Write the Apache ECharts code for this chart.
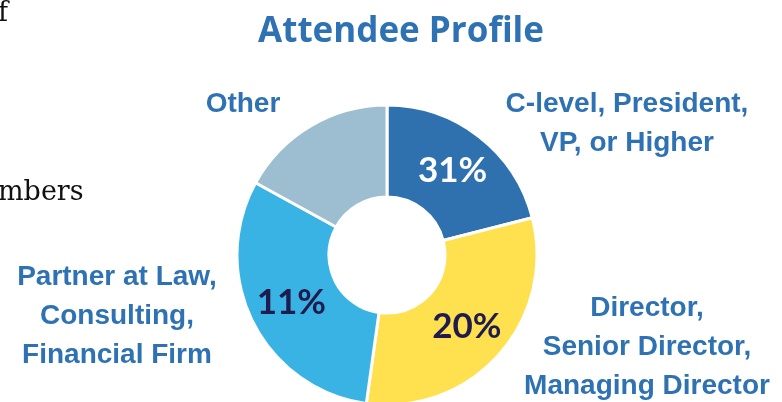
<!DOCTYPE html>
<html>
<head>
<meta charset="utf-8">
<script src="https://cdn.jsdelivr.net/npm/echarts@6/dist/echarts.min.js"></script>
<style>
  html, body { margin: 0; padding: 0; background: #fff; }
  #chart { width: 782px; height: 402px; }
</style>
</head>
<body>
<div id="chart"></div>
<script>
// slice sizes as they appear in the picture (share of the ring)
const categories = [
  'C-level, President,\nVP, or Higher',
  'Director,\nSenior Director,\nManaging Director',
  'Partner at Law,\nConsulting,\nFinancial Firm',
  'Other'
];
const sliceValues = [21, 31.2, 30.8, 17];
// percentages printed on the slices
const printedLabels = ['31%', '20%', '11%', ''];
const sliceColors = ['#2F71AE', '#FFE04F', '#38B3E4', '#9DBDD1'];
const labelColors = ['#ffffff', '#1F1B4E', '#1F1B4E', '#1F1B4E'];

const chart = echarts.init(document.getElementById('chart'));

const blue = '#2E72B3';
const nameFont = 'bold 28px "Liberation Sans", Arial, sans-serif';

// category name placed at (x, y) = centre of first line
function nameText(i, x, y) {
  return {
    type: 'text',
    x: x, y: y - 19.5,
    style: {
      text: categories[i],
      font: nameFont,
      fill: blue,
      align: 'center',
      lineHeight: 39
    }
  };
}

chart.setOption({
  animation: false,
  title: {
    text: 'Attendee Profile',
    left: 396,
    top: 10,
    textAlign: 'center',
    textStyle: {
      color: blue,
      fontSize: 35,
      fontWeight: 'bold',
      fontFamily: '"Open Sans", Lato, sans-serif'
    }
  },
  graphic: [
    // fragments of the surrounding page text
    { type: 'text', left: -2, top: 0, style: { text: 'f', font: '27px "DejaVu Serif", serif', fill: '#111' } },
    { type: 'text', left: -2, top: 179, style: { text: 'mbers', font: '27px "DejaVu Serif", serif', fill: '#111' } },
    nameText(0, 627, 104),
    nameText(1, 647, 308),
    nameText(2, 117, 277),
    nameText(3, 243, 104)
  ],
  series: [{
    type: 'pie',
    center: [387, 255],
    radius: [58, 150],
    startAngle: 90,
    clockwise: true,
    avoidLabelOverlap: false,
    itemStyle: { borderColor: '#fff', borderWidth: 3 },
    label: {
      show: true,
      position: 'inside',
      fontSize: 35,
      fontWeight: 'bold',
      fontFamily: 'Lato, "Liberation Sans", sans-serif'
    },
    labelLine: { show: false },
    emphasis: { disabled: true },
    data: sliceValues.map((v, i) => ({
      value: v,
      name: categories[i],
      itemStyle: { color: sliceColors[i] },
      label: {
        formatter: printedLabels[i],
        color: labelColors[i],
        show: printedLabels[i] !== ''
      }
    }))
  }]
});
</script>
</body>
</html>
